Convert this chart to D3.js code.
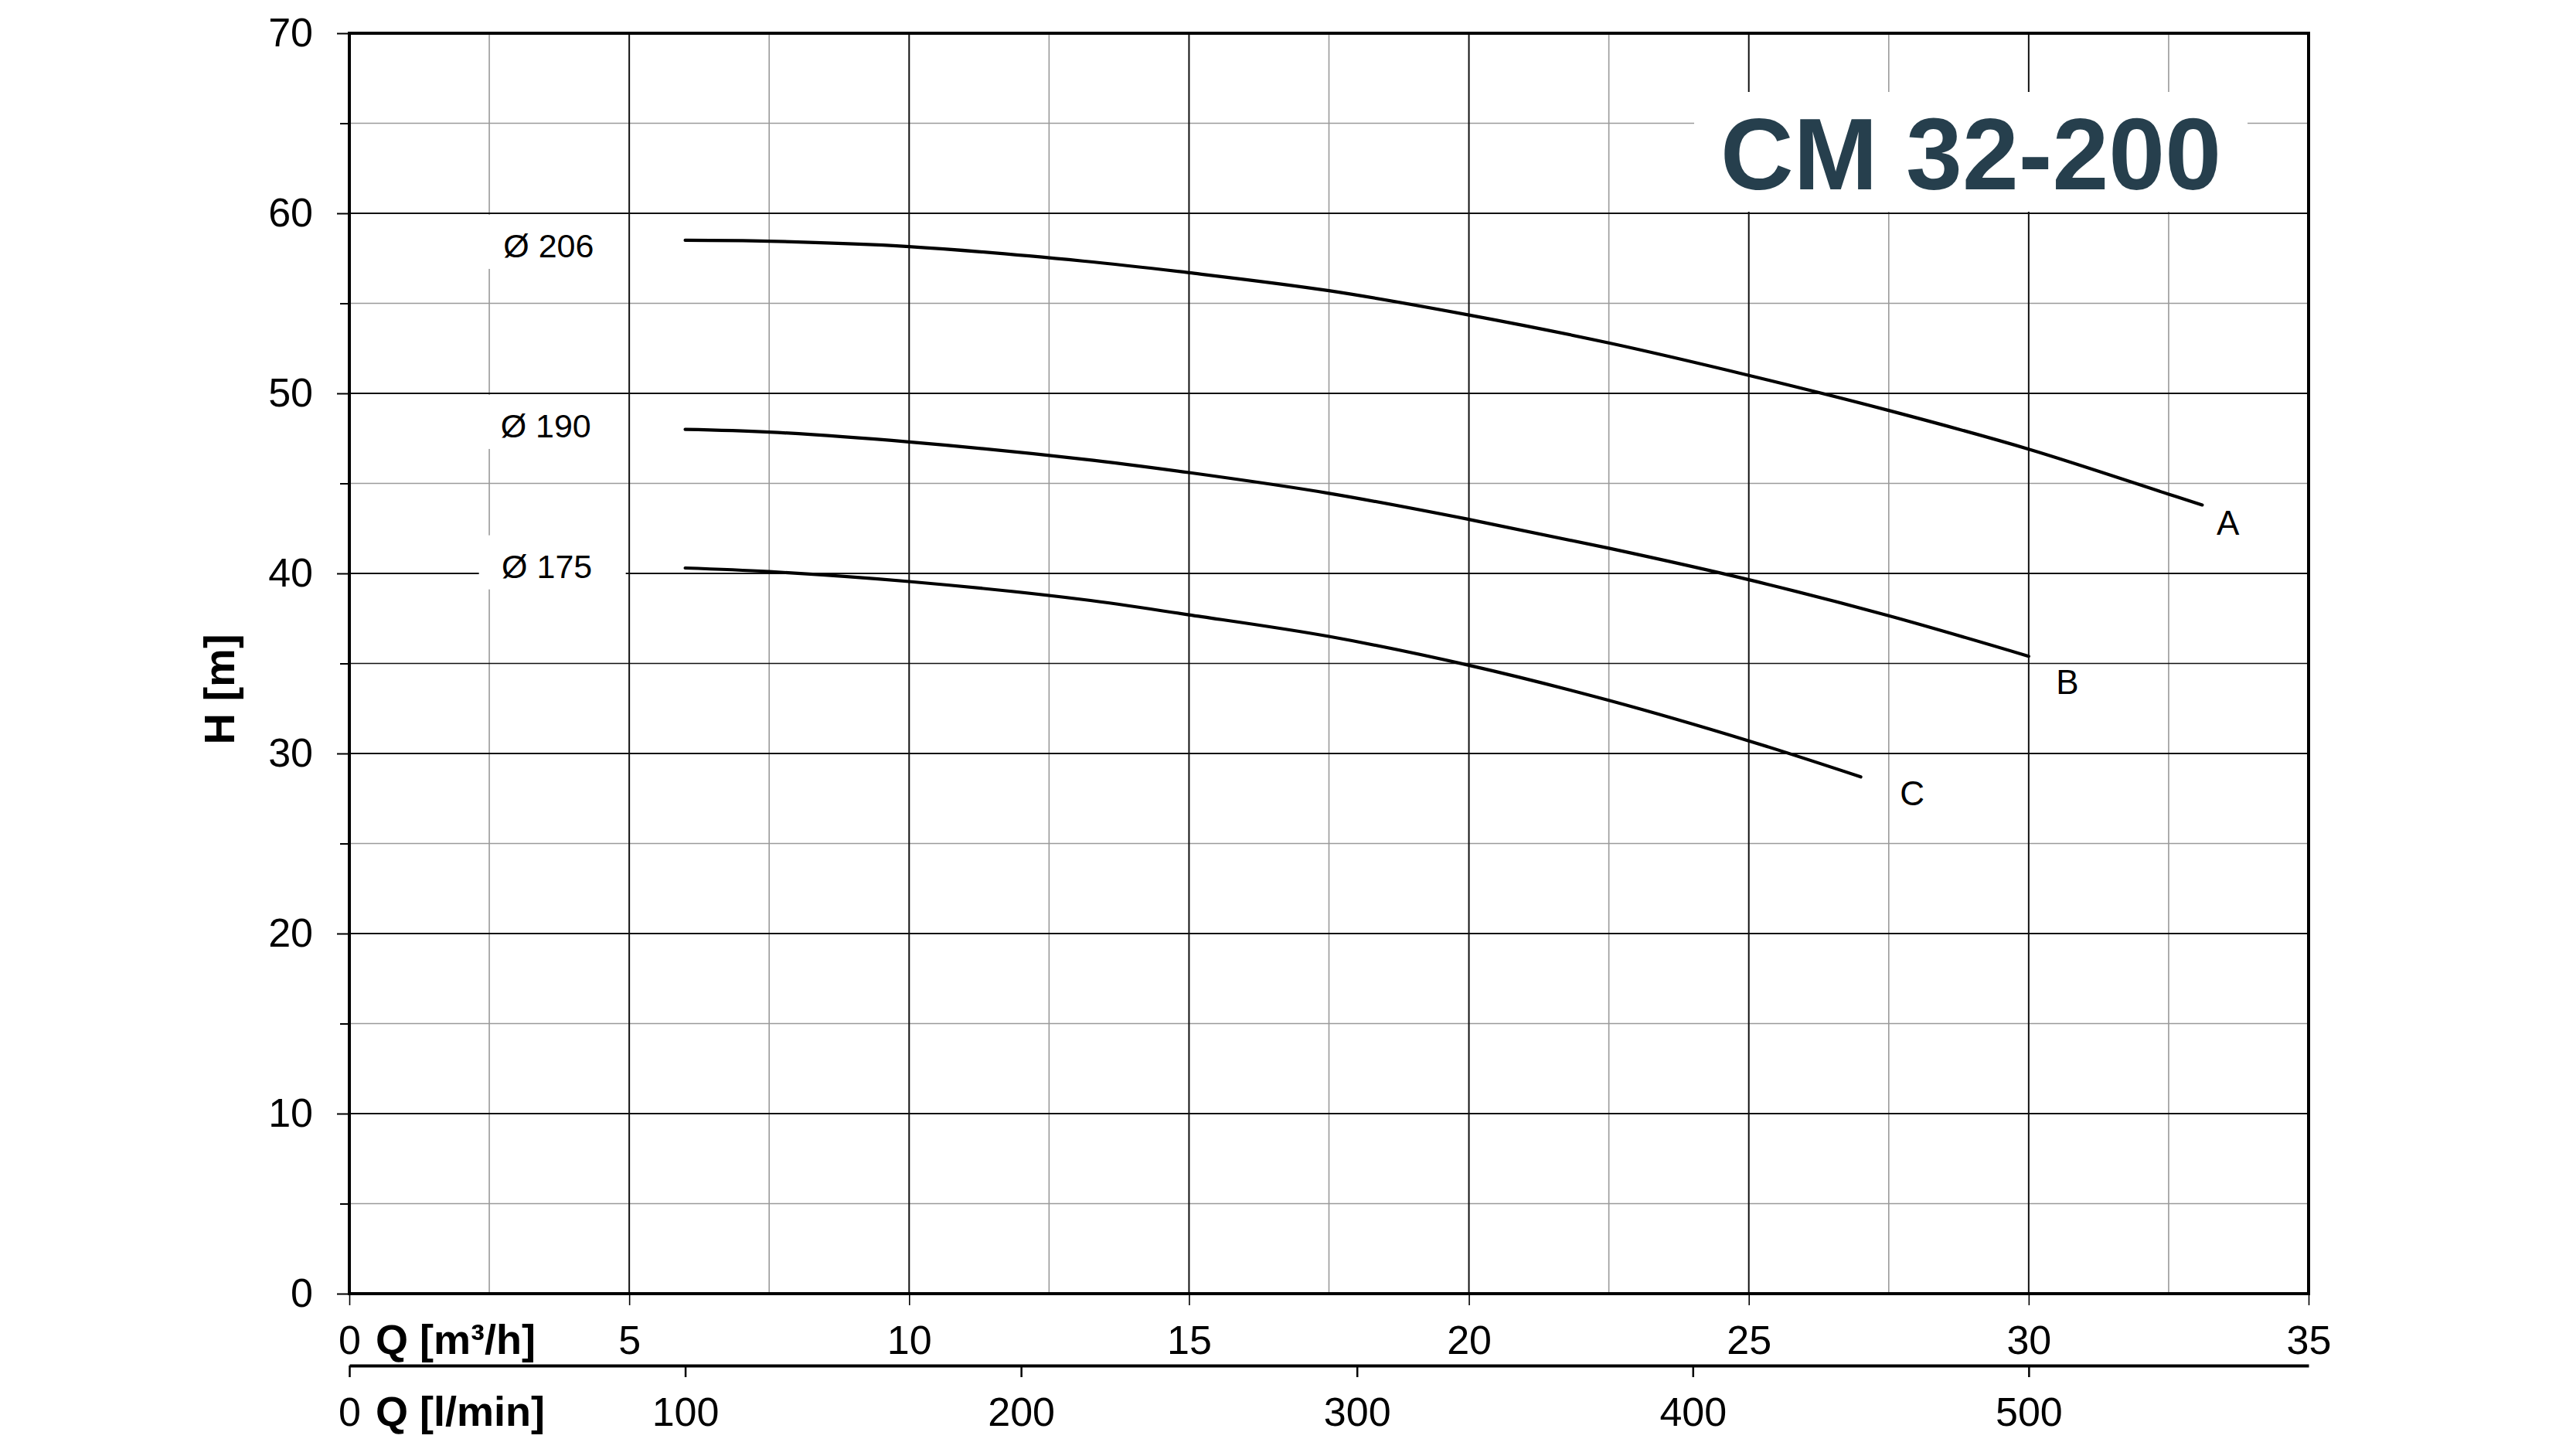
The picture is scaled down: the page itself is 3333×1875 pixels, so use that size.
<!DOCTYPE html>
<html>
<head>
<meta charset="utf-8">
<script src="https://cdn.jsdelivr.net/npm/d3@7.9.0/dist/d3.min.js"></script>
<style>
  body { margin: 0; background: #fff; }
  svg { display: block; font-family: "Liberation Sans", Arial, sans-serif; }
</style>
</head>
<body>
<svg id="chart" width="3333" height="1875"></svg>
<script>
// pump curves, Q in m3/h, H in m
const qA = [6, 7.5, 10, 13.1, 15, 17.5, 20, 22.5, 25, 27.5, 30, 32.5, 33.1];
const hA = [58.5, 58.45, 58.15, 57.35, 56.7, 55.7, 54.35, 52.8, 51.0, 49.05, 46.9, 44.4, 43.8];

const qB = [6, 7.5, 10, 13.1, 15, 17.5, 20, 22.5, 25, 27.5, 30];
const hB = [48.0, 47.85, 47.3, 46.35, 45.6, 44.45, 43.0, 41.4, 39.65, 37.65, 35.4];

const qC = [6, 7.5, 10, 13.1, 15, 17.5, 20, 22.5, 25, 27.0];
const hC = [40.3, 40.1, 39.55, 38.55, 37.7, 36.5, 34.9, 32.95, 30.7, 28.7];

const curveNames = ['A', 'B', 'C'];
const nameQ = [33.56, 30.69, 27.92];
const nameH = [42.85, 34.0, 27.8];

const diameters = ['Ø 206', 'Ø 190', 'Ø 175'];
const diamQ = [3.56, 3.51, 3.53];
const diamH = [58.2, 48.2, 40.4];

const yTicks = [0, 10, 20, 30, 40, 50, 60, 70];
const yMinor = [5, 15, 25, 35, 45, 55, 65];
const qTicks = [0, 5, 10, 15, 20, 25, 30, 35];
const qMinor = [2.5, 7.5, 12.5, 17.5, 22.5, 27.5, 32.5];
const lminTicks = [0, 100, 200, 300, 400, 500];

const title = 'CM 32-200';

// layout
const L = 452, R = 2987, T = 43, B = 1674;
const svg = d3.select('#chart');

const x = d3.scaleLinear().domain([0, 35]).range([L, R]);
const y = d3.scaleLinear().domain([0, 70]).range([B, T]);
// second flow scale: l/min = m3/h * 1000 / 60
const xl = d3.scaleLinear().domain([0, 35 * 1000 / 60]).range([L, R]);

// grid
const grid = svg.append('g');
grid.selectAll('.vmin').data(qMinor).join('line')
  .attr('x1', d => x(d)).attr('x2', d => x(d)).attr('y1', T).attr('y2', B)
  .attr('stroke', '#9a9a9a').attr('stroke-width', 1.6);
grid.selectAll('.hmin').data(yMinor).join('line')
  .attr('x1', L).attr('x2', R).attr('y1', d => y(d)).attr('y2', d => y(d))
  .attr('stroke', d => d === 35 ? '#111' : '#9a9a9a').attr('stroke-width', 1.6);
grid.selectAll('.vmaj').data(qTicks).join('line')
  .attr('x1', d => x(d)).attr('x2', d => x(d)).attr('y1', T).attr('y2', B)
  .attr('stroke', '#111').attr('stroke-width', 2);
grid.selectAll('.hmaj').data(yTicks).join('line')
  .attr('x1', L).attr('x2', R).attr('y1', d => y(d)).attr('y2', d => y(d))
  .attr('stroke', '#111').attr('stroke-width', 2.2);

// white boxes behind the diameter labels and the title
svg.selectAll('.dbox').data(diameters).join('rect')
  .attr('x', (d, i) => x(diamQ[i]) - 88)
  .attr('y', (d, i) => y(diamH[i]) - 40)
  .attr('width', 190).attr('height', 70)
  .attr('fill', '#fff');

svg.append('rect')
  .attr('x', 2192).attr('y', 119).attr('width', 716).attr('height', 155)
  .attr('fill', '#fff');

// frame
svg.append('rect')
  .attr('x', L).attr('y', T).attr('width', R - L).attr('height', B - T)
  .attr('fill', 'none').attr('stroke', '#000').attr('stroke-width', 4);

// axes
function styleAxis(g, size) {
  g.selectAll('text').attr('font-size', size).attr('fill', '#000')
    .attr('font-family', '"Liberation Sans", Arial, sans-serif');
  g.selectAll('line').attr('stroke', '#000').attr('stroke-width', 2);
}

const yAxis = svg.append('g').attr('transform', `translate(${L},0)`)
  .call(d3.axisLeft(y).tickValues(yTicks).tickSize(16).tickPadding(31).tickSizeOuter(0));
yAxis.select('.domain').remove();
styleAxis(yAxis, 52);

const yAxisMinor = svg.append('g').attr('transform', `translate(${L},0)`)
  .call(d3.axisLeft(y).tickValues(yMinor).tickSize(12).tickFormat(''));
yAxisMinor.select('.domain').remove();
styleAxis(yAxisMinor, 52);

const qAxis = svg.append('g').attr('transform', `translate(0,${B})`)
  .call(d3.axisBottom(x).tickValues(qTicks).tickSize(15).tickPadding(26).tickSizeOuter(0));
qAxis.select('.domain').remove();
styleAxis(qAxis, 52);
qAxis.selectAll('line').attr('stroke-width', 1.6);

const lAxis = svg.append('g').attr('transform', `translate(0,1767)`)
  .call(d3.axisBottom(xl).tickValues(lminTicks).tickSize(15).tickPadding(26).tickSizeOuter(0));
lAxis.select('.domain').attr('stroke', '#000').attr('stroke-width', 4);
styleAxis(lAxis, 52);
lAxis.selectAll('line').attr('stroke-width', 2.5);

// axis titles
svg.append('text')
  .attr('x', 486).attr('y', 1752)
  .attr('font-size', 54).attr('font-weight', 'bold')
  .text('Q [m³/h]');
svg.append('text')
  .attr('x', 486).attr('y', 1845)
  .attr('font-size', 54).attr('font-weight', 'bold')
  .text('Q [l/min]');
svg.append('text')
  .attr('transform', 'translate(303,892) rotate(-90)')
  .attr('text-anchor', 'middle')
  .attr('font-size', 56).attr('font-weight', 'bold')
  .text('H [m]');

// curves
const series = [
  { q: qA, h: hA },
  { q: qB, h: hB },
  { q: qC, h: hC },
];
const line = d3.line()
  .x(d => x(d[0])).y(d => y(d[1]))
  .curve(d3.curveCatmullRom.alpha(0.5));

svg.selectAll('.curve').data(series).join('path')
  .attr('d', s => line(s.q.map((q, i) => [q, s.h[i]])))
  .attr('fill', 'none').attr('stroke', '#000').attr('stroke-width', 4.2)
  .attr('stroke-linecap', 'round');

// curve names
svg.selectAll('.cname').data(curveNames).join('text')
  .attr('x', (d, i) => x(nameQ[i])).attr('y', (d, i) => y(nameH[i]) + 16)
  .attr('text-anchor', 'middle').attr('font-size', 44)
  .text(d => d);

// impeller diameters
svg.selectAll('.dname').data(diameters).join('text')
  .attr('x', (d, i) => x(diamQ[i])).attr('y', (d, i) => y(diamH[i]) + 15)
  .attr('text-anchor', 'middle').attr('font-size', 43)
  .text(d => d);

// title
svg.append('text')
  .attr('x', 2550).attr('y', 245)
  .attr('text-anchor', 'middle')
  .attr('font-size', 131).attr('font-weight', 'bold')
  .attr('fill', '#263f4d')
  .text(title);
</script>
</body>
</html>
